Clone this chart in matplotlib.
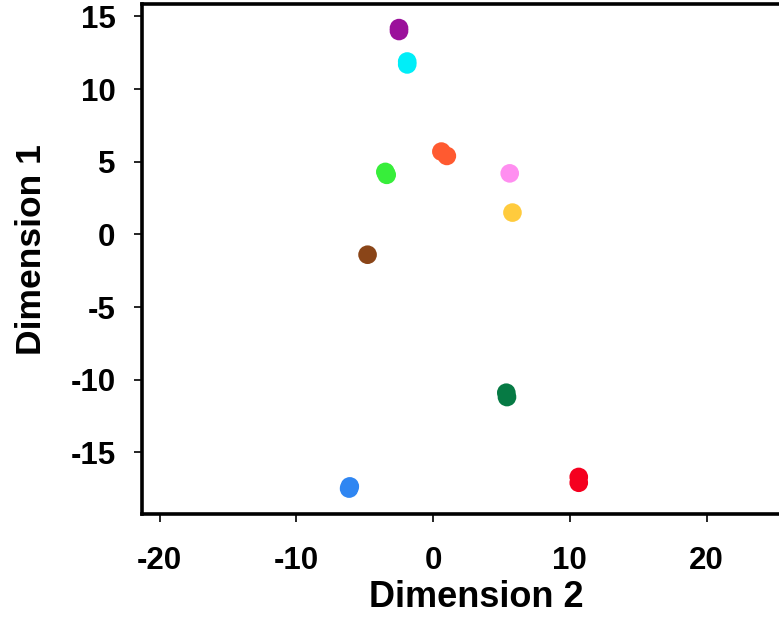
import matplotlib.pyplot as plt
import matplotlib as mpl

# cluster points (x = Dimension 2, y = Dimension 1)
dim2 = [-2.5, -2.5, -1.9, -1.9, 0.6, 1.0, -3.5, -3.4, 5.6, 5.8, -4.8, 5.35, 5.4, 10.65, 10.65, -6.1, -6.15]
dim1 = [14.2, 14.0, 11.9, 11.7, 5.7, 5.4, 4.3, 4.1, 4.2, 1.5, -1.4, -10.9, -11.2, -16.7, -17.1, -17.35, -17.5]
colours = ['#9b119b', '#9b119b', '#00eef8', '#00eef8', '#ff5a30', '#ff5a30',
           '#37ee3a', '#37ee3a', '#ff8ef0', '#ffcb3d', '#8a4518', '#067a44',
           '#067a44', '#f5001f', '#f5001f', '#2f86f2', '#2f86f2']

xticks = [-20, -10, 0, 10, 20]
yticks = [-15, -10, -5, 0, 5, 10, 15]

mpl.rcParams['font.family'] = ['Liberation Sans', 'DejaVu Sans']
mpl.rcParams['font.weight'] = 'bold'

fig = plt.figure(figsize=(7.79, 6.18), dpi=100)
ax = fig.add_axes([0.1823, 0.1683, 0.83, 0.825])

ax.scatter(dim2, dim1, c=colours, s=180, edgecolors='none')

ax.set_xlim(-21.3, 26.0)
ax.set_ylim(-19.25, 15.85)
ax.set_xticks(xticks)
ax.set_yticks(yticks)
ax.set_xticklabels([str(t) for t in xticks], fontsize=22.5, fontweight='bold')
ax.set_yticklabels([str(t) for t in yticks], fontsize=22.5, fontweight='bold')
ax.tick_params(axis='both', length=6, width=1.2, color='black')
ax.tick_params(axis='x', pad=17)
ax.tick_params(axis='y', pad=13)

for side in ['left', 'bottom', 'top']:
    ax.spines[side].set_linewidth(2.6)
ax.spines['right'].set_visible(False)

ax.set_xlabel('Dimension 2', fontsize=26, fontweight='bold')
ax.set_ylabel('Dimension 1', fontsize=25.5, fontweight='bold')
ax.xaxis.set_label_coords(0.517, -0.13)
ax.yaxis.set_label_coords(-0.145, 0.518)

fig.savefig('out.png', dpi=100)
